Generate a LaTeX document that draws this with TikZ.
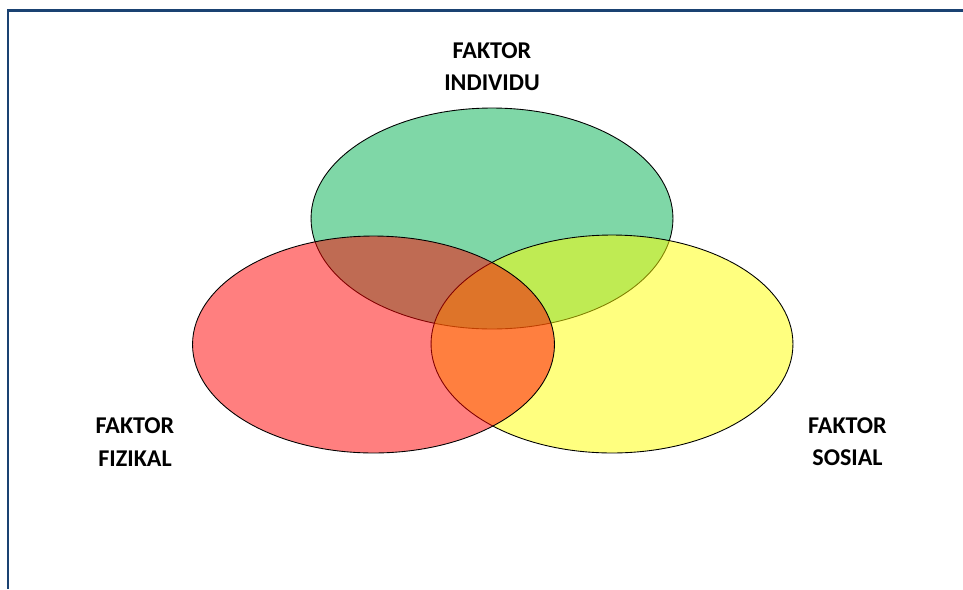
\documentclass[tikz,border=0pt]{standalone}
\usepackage{fontspec}
\setmainfont{Carlito}
\usetikzlibrary{shapes.geometric}
\definecolor{framenavy}{HTML}{1A4272}
\definecolor{setgreen}{HTML}{00B050}
\definecolor{setyellow}{HTML}{FFFF00}
\definecolor{setred}{HTML}{FF0000}
\tikzset{
  vennset/.style={ellipse, draw=black, line width=0.5pt, fill opacity=0.5,
    inner sep=0pt, outer sep=0pt, minimum width=7.24cm},
  vennlabel/.style={align=center, font=\fontsize{13.7}{18.4}\selectfont\bfseries},
  frameline/.style={draw=framenavy, line width=1.2pt},
}

\begin{document}
\begin{tikzpicture}[x=0.02cm, y=-0.02cm]
  \useasboundingbox (0,0) rectangle (963,589);
  % frame
  \coordinate (frametop) at (963,10.5);
  \coordinate (framecorner) at (8,10.5);
  \coordinate (framebottom) at (8,589);
  \draw[frameline] (frametop) -- (framecorner) -- (framebottom);
  % three sets
  \node[vennset, fill=setgreen, minimum height=4.42cm] (individu) at (492,218.5) {};
  \node[vennset, fill=setyellow, minimum height=4.36cm] (sosial) at (612,344) {};
  \node[vennset, fill=setred, minimum height=4.34cm] (fizikal) at (373.5,344.5) {};
  % labels
  \node[vennlabel] (lblindividu) at (492,66.5) {FAKTOR\\INDIVIDU};
  \node[vennlabel] (lblfizikal) at (135,442) {FAKTOR\\FIZIKAL};
  \node[vennlabel] (lblsosial) at (847.5,442) {FAKTOR\\SOSIAL};
\end{tikzpicture}
\end{document}
